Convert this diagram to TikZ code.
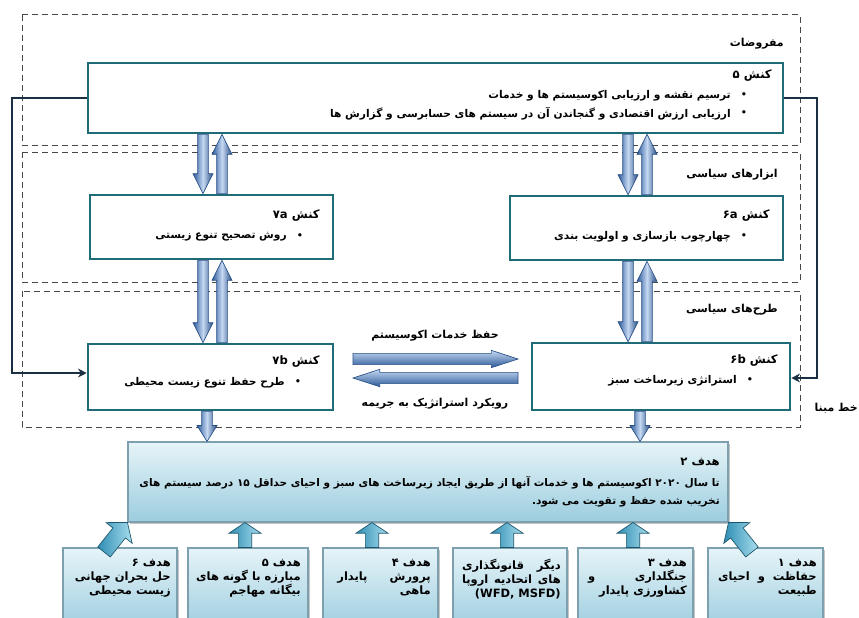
\documentclass[tikz,border=0pt]{standalone}
\usepackage{fontspec}
\usetikzlibrary{calc,fit,shadows,arrows.meta}
\TeXXeTstate=1
\newfontfamily\arabicfont[Script=Arabic]{DejaVu Sans}
\newcommand{\RL}[1]{\beginR#1\endR}
\newcommand{\LR}[1]{\beginL#1\endL}
\newcommand{\jline}[2][74pt]{\hbox to #1{\beginR#2\endR}}
\definecolor{boxteal}{HTML}{1F6B78}
\definecolor{fbnavy}{HTML}{1B2F42}
\definecolor{dashgray}{HTML}{474747}
\definecolor{arrdark}{HTML}{2D5A9A}
\definecolor{arrlight}{HTML}{C4D8F2}
\definecolor{arredge}{HTML}{284F86}
\definecolor{goaltop}{HTML}{E6F4F8}
\definecolor{goalbot}{HTML}{9CCDDF}
\definecolor{goalline}{HTML}{7E9FAE}
\definecolor{uparrL}{HTML}{2E8DB3}
\definecolor{uparrR}{HTML}{A9DEEE}
% block arrow: #1 style, #2 tail, #3 tip, #4 shaft half width, #5 head half width, #6 head length
\newcommand{\barrow}[6]{%
  \coordinate (bahd) at ($(#3)!#6!(#2)$);
  \path[#1] ($(#2)!#4!90:(#3)$) -- ($(bahd)!#4!90:(#3)$) -- ($(bahd)!#5!90:(#3)$) -- (#3)
    -- ($(bahd)!#5!-90:(#3)$) -- ($(bahd)!#4!-90:(#3)$) -- ($(#2)!#4!-90:(#3)$) -- cycle;}
\begin{document}
\begin{tikzpicture}[x=0.75pt,y=-0.75pt,
  kbox/.style={draw=boxteal, line width=1.9pt, fill=white, inner sep=0pt},
  region/.style={draw=dashgray, line width=0.75pt, dash pattern=on 4.5pt off 3pt},
  ttl/.style={font=\arabicfont\bfseries\fontsize{8.7}{10}\selectfont, inner sep=0pt, anchor=east},
  txt/.style={font=\arabicfont\bfseries\fontsize{8}{9}\selectfont, inner sep=0pt, anchor=east},
  gl/.style={font=\arabicfont\bfseries\fontsize{7.9}{9}\selectfont, inner sep=0pt, anchor=east},
  bul/.style={font=\arabicfont\fontsize{8.5}{9}\selectfont, inner sep=0pt},
  glbl/.style={font=\arabicfont\bfseries\fontsize{8.2}{10}\selectfont, inner sep=0pt, anchor=east},
  gtxt/.style={font=\arabicfont\bfseries\fontsize{8.6}{10.6}\selectfont, inner sep=0pt, anchor=north east, align=right},
  fb/.style={draw=fbnavy, line width=1.5pt, -{Stealth[length=6.5pt,width=6.5pt]}},
  blk/.style={draw=arredge, line width=0.5pt, left color=arrdark, right color=arrdark!85!black, middle color=arrlight},
  blkh/.style={draw=arredge, line width=0.5pt, top color=arrlight, bottom color=arrdark},
  goal/.style={draw=goalline, line width=0.8pt, top color=goaltop, bottom color=goalbot, inner sep=0pt,
    drop shadow={shadow xshift=1.2pt, shadow yshift=-1.2pt, opacity=0.45}},
  uparr/.style={draw=uparrL!60!black, line width=0.5pt, left color=uparrL, right color=uparrR}
]
\useasboundingbox (0,0) rectangle (859,617);
\fill[white] (0,0) rectangle (859,617);

% dashed regions
\draw[region] (22,15) rectangle (800,145);
\draw[region] (22,152) rectangle (800,282);
\draw[region] (22,291) rectangle (800,427);

% boxes
\path (88,63) coordinate (b5a) (783,133) coordinate (b5b);
\node[kbox, fit=(b5a)(b5b)] (b5) {};
\path (90,195) coordinate (b7aa) (333,259) coordinate (b7ab);
\node[kbox, fit=(b7aa)(b7ab)] (b7a) {};
\path (510,196) coordinate (b6aa) (783,260) coordinate (b6ab);
\node[kbox, fit=(b6aa)(b6ab)] (b6a) {};
\path (88,344) coordinate (b7ba) (333,410) coordinate (b7bb);
\node[kbox, fit=(b7ba)(b7bb)] (b7b) {};
\path (532,343) coordinate (b6ba) (790,410) coordinate (b6bb);
\node[kbox, fit=(b6ba)(b6bb)] (b6b) {};

% goal boxes
\path (128,442) coordinate (g2a) (728,522) coordinate (g2b);
\node[goal, fit=(g2a)(g2b)] (g2) {};
\path (63,548) coordinate (g6a) (177,630) coordinate (g6b);
\node[goal, fit=(g6a)(g6b)] (g6) {};
\path (188,548) coordinate (g5a) (308,630) coordinate (g5b);
\node[goal, fit=(g5a)(g5b)] (g5) {};
\path (323,548) coordinate (g4a) (438,630) coordinate (g4b);
\node[goal, fit=(g4a)(g4b)] (g4) {};
\path (453,548) coordinate (gda) (567,630) coordinate (gdb);
\node[goal, fit=(gda)(gdb)] (gd) {};
\path (578,548) coordinate (g3a) (693,630) coordinate (g3b);
\node[goal, fit=(g3a)(g3b)] (g3) {};
\path (708,548) coordinate (g1a) (823,630) coordinate (g1b);
\node[goal, fit=(g1a)(g1b)] (g1) {};

% feedback lines
\coordinate (L2) at (12,373);
\coordinate (R2) at (817,378);
\draw[fb] (b5.west) -| (L2) -- (L2 -| b7b.west);
\draw[fb] (b5.east) -| (R2) -- (R2 -| b6b.east);

% vertical block arrows
\coordinate (xa) at (203,0); \coordinate (xb) at (222,0);
\coordinate (xc) at (628,0); \coordinate (xd) at (647,0);
\coordinate (a1s) at (b5.south -| xa);  \coordinate (a1e) at (b7a.north -| xa);
\coordinate (a2s) at (b7a.north -| xb); \coordinate (a2e) at (b5.south -| xb);
\coordinate (a3s) at (b5.south -| xc);  \coordinate (a3e) at (b6a.north -| xc);
\coordinate (a4s) at (b6a.north -| xd); \coordinate (a4e) at (b5.south -| xd);
\coordinate (a5s) at (b7a.south -| xa); \coordinate (a5e) at (b7b.north -| xa);
\coordinate (a6s) at (b7b.north -| xb); \coordinate (a6e) at (b7a.south -| xb);
\coordinate (a7s) at (b6a.south -| xc); \coordinate (a7e) at (b6b.north -| xc);
\coordinate (a8s) at (b6b.north -| xd); \coordinate (a8e) at (b6a.south -| xd);
\barrow{blk}{a1s}{a1e}{4pt}{7.5pt}{15pt}
\barrow{blk}{a2s}{a2e}{4pt}{7.5pt}{15pt}
\barrow{blk}{a3s}{a3e}{4pt}{7.5pt}{15pt}
\barrow{blk}{a4s}{a4e}{4pt}{7.5pt}{15pt}
\barrow{blk}{a5s}{a5e}{4pt}{7.5pt}{15pt}
\barrow{blk}{a6s}{a6e}{4pt}{7.5pt}{15pt}
\barrow{blk}{a7s}{a7e}{4pt}{7.5pt}{15pt}
\barrow{blk}{a8s}{a8e}{4pt}{7.5pt}{15pt}

% horizontal arrows between 7b and 6b
\coordinate (h1s) at (353,359); \coordinate (h1e) at (518,359);
\coordinate (h2s) at (518,378); \coordinate (h2e) at (353,378);
\barrow{blkh}{h1s}{h1e}{4.2pt}{6.5pt}{20pt}
\barrow{blkh}{h2s}{h2e}{4.2pt}{6.5pt}{20pt}

% arrows down to goal 2
\coordinate (xe) at (207,0); \coordinate (xf) at (640,0);
\coordinate (d1s) at (b7b.south -| xe); \coordinate (d1e) at (g2.north -| xe);
\coordinate (d2s) at (b6b.south -| xf); \coordinate (d2e) at (g2.north -| xf);
\barrow{blk}{d1s}{d1e}{4pt}{7.5pt}{12pt}
\barrow{blk}{d2s}{d2e}{4pt}{7.5pt}{12pt}

% arrows up from bottom goals
\coordinate (x5) at (245,0); \coordinate (x4) at (372,0);
\coordinate (xd2) at (507,0); \coordinate (x3) at (633,0);
\coordinate (u5s) at (g5.north -| x5);  \coordinate (u5e) at (g2.south -| x5);
\coordinate (u4s) at (g4.north -| x4);  \coordinate (u4e) at (g2.south -| x4);
\coordinate (uds) at (gd.north -| xd2); \coordinate (ude) at (g2.south -| xd2);
\coordinate (u3s) at (g3.north -| x3);  \coordinate (u3e) at (g2.south -| x3);
\coordinate (u6s) at (104,552); \coordinate (u6e) at (g2.south west);
\coordinate (u1s) at (752,552); \coordinate (u1e) at (g2.south east);
\barrow{uparr}{u5s}{u5e}{5pt}{12pt}{8pt}
\barrow{uparr}{u4s}{u4e}{5pt}{12pt}{8pt}
\barrow{uparr}{uds}{ude}{5pt}{12pt}{8pt}
\barrow{uparr}{u3s}{u3e}{5pt}{12pt}{8pt}
\barrow{uparr}{u6s}{u6e}{6pt}{12.5pt}{10pt}
\barrow{uparr}{u1s}{u1e}{6pt}{12.5pt}{10pt}

% region labels
\node[glbl] (lm) at (784,44) {\RL{مفروضات}};
\node[glbl] (la) at (778,175) {\RL{ابزارهای سیاسی}};
\node[glbl] (lt) at (778,310) {\RL{طرح‌های سیاسی}};

% box 5
\node[ttl] (t5) at (772,76) {\RL{کنش ۵}};
\node[bul] (u51) at (744,96) {•};
\node[txt] (x51) at (731,96) {\RL{ترسیم نقشه و ارزیابی اکوسیستم ها و خدمات}};
\node[bul] (u52) at (744,114) {•};
\node[txt] (x52) at (731,114) {\RL{ارزیابی ارزش اقتصادی و گنجاندن آن در سیستم های حسابرسی و گزارش ها}};
% box 7a
\node[ttl] (t7a) at (320,216) {\RL{کنش \LR{۷a}}};
\node[bul] (u7a) at (300,237) {•};
\node[txt] (x7a) at (287,237) {\RL{روش تصحیح تنوع زیستی}};
% box 6a
\node[ttl] (t6a) at (770,216) {\RL{کنش \LR{۶a}}};
\node[bul] (u6a) at (744,237) {•};
\node[txt] (x6a) at (731,237) {\RL{چهارچوب بازسازی و اولویت بندی}};
% box 7b
\node[ttl] (t7b) at (320,362) {\RL{کنش \LR{۷b}}};
\node[bul] (u7b) at (298,383) {•};
\node[txt] (x7b) at (285,383) {\RL{طرح حفظ تنوع زیست محیطی}};
% box 6b
\node[ttl] (t6b) at (778,361) {\RL{کنش \LR{۶b}}};
\node[bul] (u6b) at (750,381) {•};
\node[txt] (x6b) at (737,381) {\RL{استراتژی زیرساخت سبز}};

% arrow labels
\node[glbl, anchor=center] (hl1) at (435,336) {\RL{حفظ خدمات اکوسیستم}};
\node[glbl, anchor=center] (hl2) at (435,404) {\RL{رویکرد استراتژیک به جریمه}};
\node[glbl] (base) at (858,408) {\RL{خط مبنا}};

% goal 2 text
\node[ttl] (g2t) at (720,462) {\RL{هدف ۲}};
\node[gl] (g2l1) at (720,483) {\RL{تا سال \LR{۲۰۲۰} اکوسیستم ها و خدمات آنها از طریق ایجاد زیرساخت های سبز و احیای حداقل \LR{۱۵} درصد سیستم های}};
\node[gl] (g2l2) at (720,502) {\RL{تخریب شده حفظ و تقویت می شود\kern0pt.}};

% bottom goal texts
\node[gtxt] (g6x) at (171,559) {\RL{هدف ۶}\\ \RL{حل بحران جهانی}\\ \RL{زیست محیطی}};
\node[gtxt] (g5x) at (301,559) {\RL{هدف ۵}\\ \RL{مبارزه با گونه های}\\ \RL{بیگانه مهاجم}};
\node[gtxt] (g4x) at (431,559) {\RL{هدف ۴}\\ \jline[70pt]{پرورش\hfill پایدار}\\ \RL{ماهی}};
\node[gtxt] (gdx) at (561,559) {\jline{دیگر\hfill قانونگذاری}\\ \jline{های\hfill اتحادیه\hfill اروپا}\\ \RL{\LR{(WFD, MSFD)}}};
\node[gtxt] (g3x) at (687,559) {\RL{هدف ۳}\\ \jline{جنگلداری\hfill و}\\ \RL{کشاورزی پایدار}};
\node[gtxt] (g1x) at (817,559) {\RL{هدف ۱}\\ \jline{حفاظت\hfill و\hfill احیای}\\ \RL{طبیعت}};
\end{tikzpicture}
\end{document}
